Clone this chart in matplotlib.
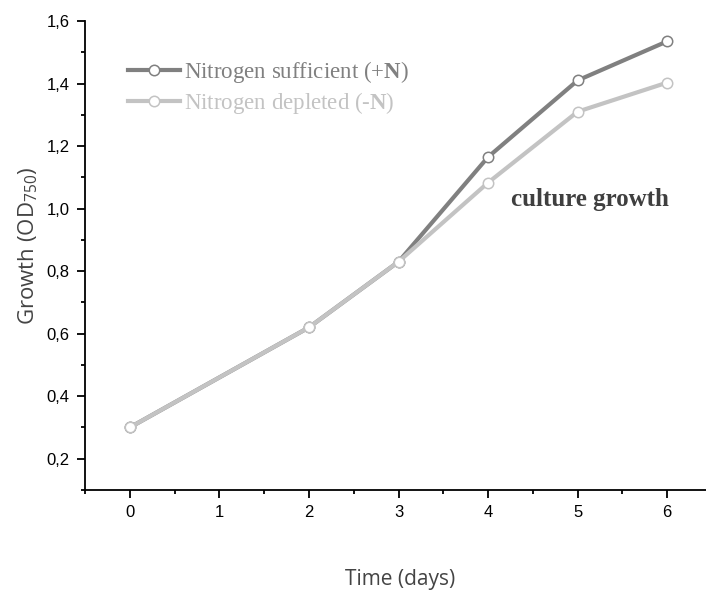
import matplotlib.pyplot as plt
from matplotlib.ticker import MultipleLocator, FuncFormatter

# growth curves (OD750) for the two nitrogen regimes
days = [0, 2, 3, 4, 5, 6]
od_plus_n = [0.30, 0.62, 0.83, 1.165, 1.41, 1.535]
od_minus_n = [0.30, 0.62, 0.83, 1.083, 1.31, 1.403]

dark = '#808080'
light = '#c3c3c3'

plt.rcParams['mathtext.fontset'] = 'custom'
plt.rcParams['mathtext.rm'] = 'Liberation Serif'
plt.rcParams['mathtext.bf'] = 'Liberation Serif:bold'
plt.rcParams['mathtext.sf'] = 'Open Sans'

fig = plt.figure(figsize=(7.06, 5.92), dpi=100)
ax = fig.add_axes([85 / 706, 102 / 592, 627 / 706, 469 / 592])

ax.plot(days, od_plus_n, color=dark, lw=3, marker='o', ms=7.5,
        mfc='white', mec=dark, mew=1.1, label='Nitrogen sufficient (+$\\mathbf{N}$)', zorder=2)
ax.plot(days, od_minus_n, color=light, lw=3, marker='o', ms=7.5,
        mfc='white', mec=light, mew=1.1, label='Nitrogen depleted (-$\\mathbf{N}$)', zorder=3)

ax.set_xlim(-0.5, 6.5)
ax.set_ylim(0.1, 1.6)
ax.xaxis.set_major_locator(MultipleLocator(1))
ax.xaxis.set_minor_locator(MultipleLocator(0.5))
ax.yaxis.set_major_locator(MultipleLocator(0.2))
ax.yaxis.set_minor_locator(MultipleLocator(0.1))
ax.yaxis.set_major_formatter(FuncFormatter(lambda v, p: f'{v:.1f}'.replace('.', ',')))

for s in ['top', 'right']:
    ax.spines[s].set_visible(False)
for s in ['left', 'bottom']:
    ax.spines[s].set_linewidth(1.3)
ax.tick_params(which='major', direction='out', length=6, width=1.3,
               labelsize=12, labelfontfamily='Liberation Sans', pad=5)
ax.tick_params(which='minor', direction='out', length=3, width=1.3)

ax.set_ylabel('Growth (OD$_{\\mathsf{750}}$)', fontsize=16, fontfamily='Open Sans',
              color='#444444')
ax.yaxis.set_label_coords(-0.072, 0.52)
ax.set_xlabel('Time (days)', fontsize=15, fontfamily='Open Sans', color='#444444')
ax.xaxis.set_label_coords(0.503, -0.168)

handles, labels = ax.get_legend_handles_labels()
leg = ax.legend(handles, labels, loc='upper left',
                bbox_to_anchor=(0.035, 0.963), frameon=False,
                handlelength=2.3, handletextpad=0.15, labelspacing=0.2,
                prop={'family': 'Liberation Serif', 'size': 16.5})
for txt, col in zip(leg.get_texts(), [dark, light]):
    txt.set_color(col)

ax.text(0.68, 0.62, 'culture growth', transform=ax.transAxes,
        fontsize=18, fontfamily='Liberation Serif', fontweight='bold',
        color='#3f3f3f', va='center')

fig.savefig('out.png', dpi=100)
